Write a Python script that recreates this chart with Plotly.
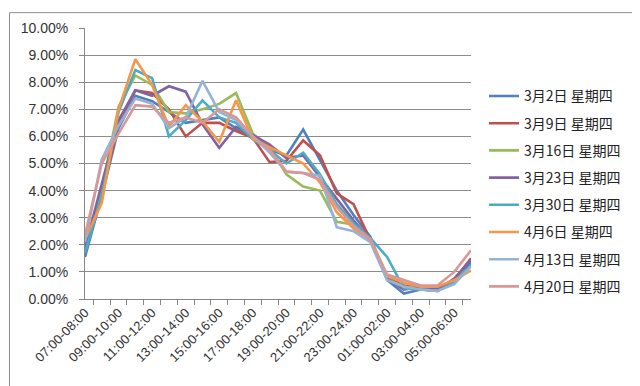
import plotly.graph_objects as go

hours = ["07:00-08:00", "08:00-09:00", "09:00-10:00", "10:00-11:00", "11:00-12:00",
         "12:00-13:00", "13:00-14:00", "14:00-15:00", "15:00-16:00", "16:00-17:00",
         "17:00-18:00", "18:00-19:00", "19:00-20:00", "20:00-21:00", "21:00-22:00",
         "22:00-23:00", "23:00-24:00", "00:00-01:00", "01:00-02:00", "02:00-03:00",
         "03:00-04:00", "04:00-05:00", "05:00-06:00", "06:00-07:00"]

series_names = ["3月2日 星期四", "3月9日 星期四", "3月16日 星期四", "3月23日 星期四",
                "3月30日 星期四", "4月6日 星期四", "4月13日 星期四", "4月20日 星期四"]

mar02 = [1.55, 3.8, 6.3, 7.5, 7.3, 6.9, 6.5, 6.6, 6.7, 6.3, 6.0, 5.5, 5.3, 6.25, 5.1, 4.0, 3.1, 2.3, 0.7, 0.2, 0.35, 0.3, 0.65, 1.35]
mar09 = [2.0, 3.9, 6.5, 7.7, 7.6, 7.0, 6.0, 6.5, 6.5, 6.2, 5.95, 5.05, 5.1, 5.85, 5.3, 3.9, 3.5, 2.2, 0.85, 0.5, 0.45, 0.35, 0.7, 1.5]
mar16 = [2.0, 4.0, 7.1, 8.25, 7.9, 6.9, 6.85, 7.0, 7.2, 7.6, 6.1, 5.6, 4.6, 4.15, 4.0, 2.85, 2.75, 2.2, 0.75, 0.45, 0.4, 0.3, 0.75, 1.2]
mar23 = [1.9, 4.2, 6.6, 7.7, 7.5, 7.85, 7.65, 6.45, 5.58, 6.35, 6.05, 5.7, 5.2, 5.3, 4.5, 3.7, 2.9, 2.2, 0.75, 0.35, 0.45, 0.35, 0.75, 1.45]
mar30 = [1.7, 3.8, 6.9, 8.45, 8.15, 6.0, 6.6, 7.33, 6.7, 6.5, 5.9, 5.5, 5.0, 5.4, 4.6, 3.5, 2.8, 2.25, 1.55, 0.4, 0.35, 0.3, 0.6, 1.25]
apr06 = [2.2, 3.55, 7.0, 8.85, 7.9, 6.35, 7.15, 6.55, 5.8, 7.33, 5.9, 5.6, 5.3, 5.0, 4.3, 3.2, 2.6, 2.2, 0.85, 0.6, 0.45, 0.45, 0.7, 1.05]
apr13 = [2.1, 5.15, 6.4, 7.4, 7.2, 6.3, 6.7, 8.05, 6.9, 6.6, 6.0, 5.4, 4.7, 4.65, 4.55, 2.65, 2.5, 2.1, 0.7, 0.45, 0.35, 0.3, 0.55, 1.2]
apr20 = [2.35, 5.0, 6.1, 7.15, 7.1, 6.5, 6.7, 6.5, 7.0, 6.7, 6.0, 5.5, 4.7, 4.65, 4.4, 3.4, 2.7, 2.2, 0.9, 0.7, 0.5, 0.5, 1.0, 1.8]

all_series = [mar02, mar09, mar16, mar23, mar30, apr06, apr13, apr20]
colors = ["#4F81BD", "#C0504D", "#9BBB59", "#8064A2", "#4BACC6", "#F79646", "#95B3D7", "#D99795"]

tick_text = [h if i % 2 == 0 else "" for i, h in enumerate(hours)]

fig = go.Figure()
for name, vals, col in zip(series_names, all_series, colors):
    fig.add_trace(go.Scatter(
        x=hours, y=[v / 100 for v in vals], mode="lines", name=name,
        legendgroup=name,
        line=dict(color=col, width=2.6),
    ))

# plot area in pixels: x 77..463, y 17..291
L, R, T, B = 77, 463, 17, 291
W, H = R - L, B - T
def px(x):
    return (x - L) / W
def py(y):
    return (B - y) / H

fig.add_shape(type="rect", xref="paper", yref="paper",
              x0=px(1.5), x1=px(638.5), y0=py(384.5), y1=py(1.5),
              line=dict(color="#8C8C8C", width=1), fillcolor="rgba(0,0,0,0)", layer="below")

fig.update_layout(
    width=640, height=386,
    margin=dict(l=L, r=640 - R, t=T, b=386 - B, pad=0),
    paper_bgcolor="white", plot_bgcolor="white",
    font=dict(family="Liberation Sans, Noto Sans CJK SC", size=13, color="#333333"),
    showlegend=True,
    legend=dict(
        x=px(476), y=py(70), xanchor="left", yanchor="top",
        font=dict(family="Noto Sans CJK SC", size=14, color="#222222"),
        tracegroupgap=6, itemwidth=30, bgcolor="rgba(0,0,0,0)",
    ),
    xaxis=dict(
        type="category", tickmode="array", tickvals=hours, ticktext=tick_text,
        tickangle=-45, tickson="boundaries", ticks="outside", ticklen=5,
        tickcolor="#868686", showline=True, linecolor="#868686", linewidth=1,
        showgrid=False, tickfont=dict(size=13, color="#333333"),
    ),
    yaxis=dict(
        range=[0, 0.1], dtick=0.01, tickformat=".2%", ticks="outside", ticklen=5,
        tickcolor="#868686", showline=True, linecolor="#868686", linewidth=1,
        showgrid=True, gridcolor="#8C8C8C", gridwidth=1, zeroline=False,
        ticklabelstandoff=8,
        tickfont=dict(size=14, color="#333333"),
    ),
)

fig.write_html("out.html")
